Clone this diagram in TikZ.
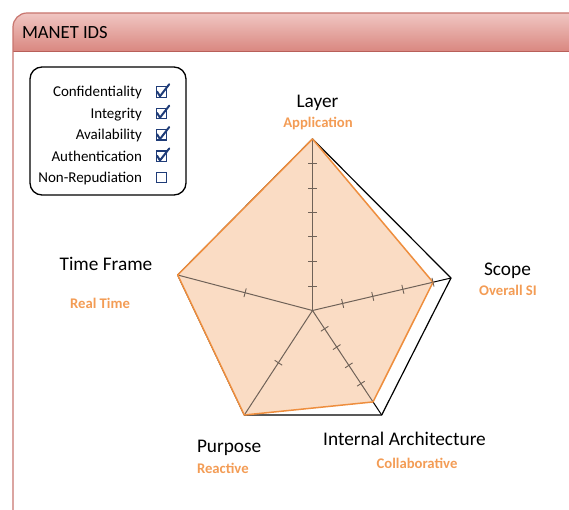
\documentclass[tikz,border=0pt]{standalone}
\usepackage{fontspec}
\setmainfont{Carlito}
\usetikzlibrary{calc}

\definecolor{frameline}{HTML}{C8756E}
\definecolor{hdrtop}{HTML}{F0C6C2}
\definecolor{hdrbot}{HTML}{D9867F}
\definecolor{hdrline}{HTML}{B85F59}
\definecolor{radarline}{HTML}{EE8E3E}
\definecolor{radarfill}{HTML}{FADCC4}
\definecolor{valtext}{HTML}{F39C55}
\definecolor{axisgray}{HTML}{6F6258}
\definecolor{boxblue}{HTML}{1F3C78}

\tikzset{
  axis_lbl/.style={anchor=base, font=\fontsize{19.3}{21}\selectfont},
  val_lbl/.style={anchor=base, text=valtext, font=\bfseries\fontsize{14.7}{16}\selectfont},
  leg_lbl/.style={anchor=base east, font=\fontsize{15}{17}\selectfont},
  chkbox/.style={draw=boxblue, line width=1.2pt, minimum size=10.5pt},
  chkmark/.style={boxblue, line width=2pt, line join=round, line cap=round},
  tick_mark/.style={axisgray, line width=0.9pt}
}

\begin{document}
\begin{tikzpicture}[x=1pt, y=-1pt, inner sep=0pt, outer sep=0pt]
    \useasboundingbox (0,0) rectangle (569,510);
    \clip (0,0) rectangle (569,510);

    % frame and header
    \shade[top color=hdrtop, bottom color=hdrbot, rounded corners=14pt]
        (13,52) -- (13,13) -- (600,13) [sharp corners] -- (600,52) -- cycle;
    \draw[hdrline, line width=1pt] (13,52) -- (600,52);
    \draw[frameline, line width=1.2pt, rounded corners=14pt] (13,13) rectangle (600,540);
    \node[anchor=base west, font=\fontsize{18.6}{20}\selectfont] (title) at (22,38.3) {MANET IDS};

    % legend
    \node[draw, line width=1.3pt, rounded corners=12pt, minimum width=156pt, minimum height=128pt]
        (legend) at (108,131) {};
    \foreach \name/\txt/\yb/\ok in {conf/Confidentiality/97/1, integ/Integrity/118.4/1,
        avail/Availability/139.8/1, auth/Authentication/161.2/1, nonrep/Non-Repudiation/182.6/0}
    {
        \node[leg_lbl] (\name_lbl) at (142,\yb) {\txt};
        \node[chkbox] (\name_box) at (161.5,{\yb-5}) {};
        \ifnum\ok=1
        \draw[chkmark] ($(\name_box.west)+(0.8pt,0.5pt)$) -- ($(\name_box.south)+(-1.5pt,1pt)$)
            -- ($(\name_box.north east)+(2.5pt,2.5pt)$);
        \fi
    }

    % radar axes
    \coordinate (ctr) at (312.5,310.5);
    \coordinate (layer_out) at (312.5,139);
    \coordinate (scope_out) at (451,278);
    \coordinate (arch_out) at (381.7,415);
    \coordinate (purp_out) at (244.3,415);
    \coordinate (time_out) at (177.7,275);

    \coordinate (layer_pt) at (layer_out);
    \coordinate (scope_pt) at ($(ctr)!0.87!(scope_out)$);
    \coordinate (arch_pt) at ($(ctr)!0.875!(arch_out)$);
    \coordinate (purp_pt) at (purp_out);
    \coordinate (time_pt) at (time_out);

    \draw[line width=1.2pt, line join=round] (layer_out) -- (scope_out) -- (arch_out)
        -- (purp_out) -- (time_out) -- cycle;
    \fill[radarfill] (layer_pt) -- (scope_pt) -- (arch_pt) -- (purp_pt) -- (time_pt) -- cycle;
    \draw[line width=1pt] (scope_pt) -- (scope_out) (arch_pt) -- (arch_out);
    \foreach \ax in {layer, scope, arch, purp, time}
        \draw[axisgray, line width=1pt] (ctr) -- (\ax_pt);
    \draw[radarline, line width=1.5pt, line join=round] (layer_pt) -- (scope_pt) -- (arch_pt)
        -- (purp_pt) -- (time_pt) -- cycle;

    % ticks
    \foreach \ax/\fl in {layer_out/{0.143,0.286,0.429,0.571,0.714,0.857},
        scope_out/{0.2175,0.435,0.6525,0.87}, arch_out/{0.175,0.35,0.525,0.7},
        purp_out/{0.5}, time_out/{0.5}}
    {
        \foreach \f in \fl
            \draw[tick_mark] ($(ctr)!\f!(\ax)!4.5pt!90:(\ax)$) -- ($(ctr)!\f!(\ax)!4.5pt!-90:(\ax)$);
    }

    % labels
    \node[axis_lbl] (layer_lbl) at (317.5,107.3) {Layer};
    \node[val_lbl] (layer_val) at (318,127.7) {Application};
    \node[axis_lbl] (scope_lbl) at (507.5,275) {Scope};
    \node[val_lbl] (scope_val) at (508,295) {Overall SI};
    \node[axis_lbl] (time_lbl) at (106,270) {Time Frame};
    \node[val_lbl] (time_val) at (100,308) {Real Time};
    \node[axis_lbl, anchor=base west] (purp_lbl) at (197,452.7) {Purpose};
    \node[val_lbl, anchor=base west] (purp_val) at (197,473) {Reactive};
    \node[axis_lbl] (arch_lbl) at (404.5,445.7) {Internal Architecture};
    \node[val_lbl] (arch_val) at (417,468.3) {Collaborative};
\end{tikzpicture}
\end{document}
